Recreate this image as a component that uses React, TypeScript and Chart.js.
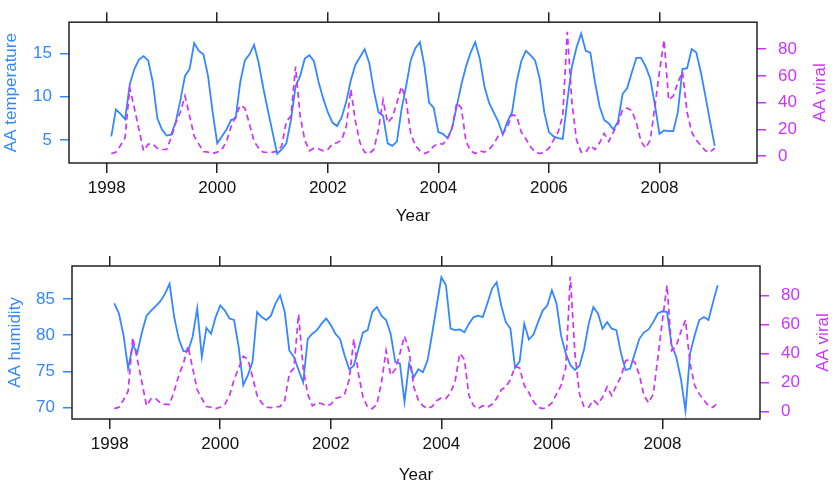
import React, { useEffect, useRef } from "react";
import { Chart, registerables } from "chart.js";

Chart.register(...registerables);

// ---------- data (monthly, Jan 1998 – Dec 2008) ----------
const startYear = 1998;

const temperature = [
  5.4, 8.5, 8.0, 7.4, 11.4, 13.2, 14.3, 14.7, 14.2, 11.7, 7.5, 6.2,
  5.5, 5.6, 7.1, 9.6, 12.4, 13.2, 16.2, 15.3, 14.9, 12.4, 8.2, 4.6,
  5.4, 6.2, 7.3, 7.5, 11.7, 14.2, 14.9, 16.0, 13.9, 11.0, 8.4, 5.9,
  3.4, 3.9, 4.6, 7.3, 11.2, 12.4, 14.4, 14.8, 14.1, 11.7, 9.8, 8.2,
  7.0, 6.6, 7.6, 9.4, 11.9, 13.7, 14.6, 15.5, 13.9, 10.7, 8.2, 7.8,
  4.6, 4.3, 4.8, 8.5, 11.2, 14.2, 15.6, 16.3, 13.5, 9.3, 8.7, 5.9,
  5.7, 5.2, 6.4, 8.9, 11.4, 13.5, 15.1, 16.3, 14.4, 11.2, 9.3, 8.2,
  7.1, 5.6, 7.1, 8.2, 11.7, 14.1, 15.3, 14.8, 14.2, 12.1, 8.2, 5.9,
  5.4, 5.2, 5.1, 9.5, 13.5, 15.7, 17.3, 15.3, 15.1, 11.7, 8.9, 7.3,
  6.9, 6.2, 7.1, 10.3, 11.0, 12.8, 14.5, 14.5, 13.5, 12.1, 9.1, 5.7,
  6.1, 6.0, 6.0, 8.2, 13.2, 13.3, 15.5, 15.1, 12.8, 10.0, 7.1, 4.3,
];

const humidity = [
  84.4, 83.0, 80.0, 75.4, 78.6, 77.6, 80.4, 82.7, 83.4, 84.0, 84.7, 85.7,
  87.1, 82.5, 79.5, 77.8, 77.8, 79.8, 83.7, 77.0, 81.0, 80.2, 82.5, 84.1,
  83.4, 82.3, 82.1, 78.4, 73.1, 74.5, 76.3, 83.2, 82.5, 82.1, 82.7, 84.4,
  85.5, 83.2, 77.9, 77.0, 75.2, 73.5, 79.5, 80.2, 80.7, 81.6, 82.3, 81.4,
  80.2, 79.5, 77.2, 75.3, 75.8, 78.1, 80.4, 80.7, 83.2, 83.9, 82.7, 82.1,
  80.2, 76.3, 76.1, 70.8, 76.1, 74.2, 75.3, 74.9, 76.5, 80.2, 84.1, 88.0,
  86.9, 80.9, 80.7, 80.8, 80.4, 81.6, 82.5, 82.7, 82.5, 84.4, 86.4, 87.3,
  84.1, 81.8, 80.9, 75.5, 76.4, 81.6, 79.4, 80.1, 81.8, 83.4, 84.1, 86.2,
  84.4, 79.9, 77.5, 75.9, 75.2, 75.8, 78.1, 81.6, 83.9, 83.0, 80.9, 81.8,
  80.9, 80.7, 77.5, 75.2, 75.4, 77.5, 79.5, 80.4, 80.8, 81.8, 83.0, 83.3,
  83.2, 78.6, 77.0, 74.0, 69.6, 77.5, 80.0, 82.1, 82.5, 82.1, 84.6, 86.9,
];

const viral = [
  2, 3, 8, 14, 51, 36, 20, 4, 9, 9, 6, 5,
  5, 14, 25, 33, 45, 30, 15, 9, 3.5, 3, 2, 3,
  5, 11, 22, 30, 38, 36, 24, 11, 6, 3, 2.7, 3,
  3.6, 7.7, 26, 30, 67, 30, 12, 4, 6, 5.5, 4, 5,
  9, 10, 12, 22, 50, 26, 10, 3, 2, 5, 20, 42,
  25, 29, 40, 52, 42, 17, 8, 4, 2, 3.5, 7.5, 9.5,
  9, 13, 21, 40, 36, 11, 4, 2, 4, 3, 5, 9,
  15, 17, 22, 31, 30, 18, 13, 7, 3, 2, 3, 6,
  12, 18, 30, 93, 40, 12, 3, 3, 8, 5, 10, 17,
  11, 18, 24, 35, 36, 34, 25, 11, 6, 12, 37, 63,
  87, 42, 45, 55, 63, 33, 18, 12, 8, 4, 3, 6,
];

const yearTicks = [1998, 2000, 2002, 2004, 2006, 2008];
const temperatureTicks = [5, 10, 15];
const humidityTicks = [70, 75, 80, 85];
const viralTicks = [0, 20, 40, 60, 80];

// ---------- styling ----------
const BLUE = "#3388ff";
const MAGENTA = "#cc33ff";
const INK = "#222222";
const FAMILY = "'Liberation Sans', Arial, Helvetica, sans-serif";
const FONT = { family: FAMILY, size: 17 };

const X_MIN = 1997.318;
const X_MAX = 2009.765;

const boxPlugin = {
  id: "panelBox",
  afterDatasetsDraw(chart: any) {
    const { ctx, chartArea: a } = chart;
    ctx.save();
    ctx.strokeStyle = INK;
    ctx.lineWidth = 1.5;
    ctx.strokeRect(a.left, a.top, a.right - a.left, a.bottom - a.top);
    ctx.restore();
  },
};

const rightTitlePlugin = {
  id: "rightTitle",
  afterDraw(chart: any, _args: any, opts: any) {
    const { ctx, chartArea: a } = chart;
    ctx.save();
    ctx.fillStyle = opts.color;
    ctx.font = `${FONT.size}px ${FAMILY}`;
    ctx.textAlign = "center";
    ctx.textBaseline = "middle";
    ctx.translate(a.right + opts.offset, (a.top + a.bottom) / 2);
    ctx.rotate(-Math.PI / 2);
    ctx.fillText(opts.text, 0, 0);
    ctx.restore();
  },
};

type PanelSpec = {
  leftLabel: string;
  leftValues: number[];
  leftTicks: number[];
  leftMin: number;
  leftMax: number;
  leftWidth: number;
  rightWidth: number;
  padTop: number;
  xAxisHeight: number;
  xTitlePad: number;
  leftTitlePad: number;
};

function makePanel(canvas: HTMLCanvasElement, spec: PanelSpec) {
  const months = spec.leftValues.map((_, i) => startYear + (i + 1) / 12);
  const toPoints = (vals: number[]) => vals.map((v, i) => ({ x: months[i], y: v }));
  const setYearTicks = (s: any) => {
    s.ticks = yearTicks.map((v) => ({ value: v }));
  };

  return new Chart(canvas, {
    type: "line",
    data: {
      datasets: [
        {
          label: "AA viral",
          data: toPoints(viral),
          xAxisID: "x",
          yAxisID: "y1",
          borderColor: MAGENTA,
          borderWidth: 1.7,
          borderDash: [6, 4],
          pointRadius: 0,
          tension: 0,
          fill: false,
        },
        {
          label: spec.leftLabel,
          data: toPoints(spec.leftValues),
          xAxisID: "x",
          yAxisID: "y",
          borderColor: BLUE,
          borderWidth: 1.8,
          pointRadius: 0,
          tension: 0,
          fill: false,
        },
      ],
    },
    options: {
      animation: false,
      responsive: false,
      maintainAspectRatio: false,
      devicePixelRatio: 1,
      layout: { padding: { top: spec.padTop, left: 0, right: 0, bottom: 0 } },
      plugins: {
        legend: { display: false },
        tooltip: { enabled: false },
        rightTitle: { text: "AA viral", color: MAGENTA, offset: 63.5 },
      } as any,
      scales: {
        x: {
          type: "linear",
          position: "bottom",
          min: X_MIN,
          max: X_MAX,
          afterBuildTicks: setYearTicks,
          afterFit: (s: any) => {
            s.height = spec.xAxisHeight;
          },
          grid: { drawOnChartArea: false, tickLength: 10, tickColor: INK, lineWidth: 1.5 },
          border: { display: false },
          ticks: {
            color: "#111",
            font: FONT,
            padding: 5,
            maxRotation: 0,
            autoSkip: false,
            callback: (v: any) => String(v),
          },
          title: {
            display: true,
            text: "Year",
            color: "#111",
            font: FONT,
            padding: { top: 0, bottom: spec.xTitlePad },
          },
        },
        x2: {
          type: "linear",
          position: "top",
          min: X_MIN,
          max: X_MAX,
          afterBuildTicks: setYearTicks,
          afterFit: (s: any) => {
            s.height = 10;
          },
          grid: { drawOnChartArea: false, tickLength: 10, tickColor: INK, lineWidth: 1.5 },
          border: { display: false },
          ticks: { display: false },
        },
        y: {
          type: "linear",
          position: "left",
          min: spec.leftMin,
          max: spec.leftMax,
          afterBuildTicks: (s: any) => {
            s.ticks = spec.leftTicks.map((v) => ({ value: v }));
          },
          afterFit: (s: any) => {
            s.width = spec.leftWidth;
          },
          grid: { drawOnChartArea: false, tickLength: 9, tickColor: BLUE, lineWidth: 1.5 },
          border: { display: false },
          ticks: { color: BLUE, font: FONT, padding: 8, callback: (v: any) => String(v) },
          title: {
            display: true,
            text: spec.leftLabel,
            color: BLUE,
            font: FONT,
            padding: { top: spec.leftTitlePad, bottom: 0 },
          },
        },
        y1: {
          type: "linear",
          position: "right",
          min: -5.1,
          max: 100.2,
          afterBuildTicks: (s: any) => {
            s.ticks = viralTicks.map((v) => ({ value: v }));
          },
          afterFit: (s: any) => {
            s.width = spec.rightWidth;
          },
          grid: { drawOnChartArea: false, tickLength: 9, tickColor: MAGENTA, lineWidth: 1.5 },
          border: { display: false },
          ticks: { color: MAGENTA, font: FONT, padding: 12, callback: (v: any) => String(v) },
        },
      },
    } as any,
    plugins: [boxPlugin, rightTitlePlugin],
  });
}

function Panel({ spec, top }: { spec: PanelSpec; top: number }) {
  const ref = useRef<HTMLCanvasElement | null>(null);
  useEffect(() => {
    if (!ref.current) return;
    const chart = makePanel(ref.current, spec);
    return () => chart.destroy();
  }, []);
  return (
    <canvas
      ref={ref}
      width={835}
      height={243}
      style={{ position: "absolute", left: 0, top, width: 835, height: 243 }}
    />
  );
}

const topSpec: PanelSpec = {
  leftLabel: "AA temperature",
  leftValues: temperature,
  leftTicks: temperatureTicks,
  leftMin: 2.32,
  leftMax: 18.62,
  leftWidth: 69,
  rightWidth: 78,
  padTop: 0,
  xAxisHeight: 80,
  xTitlePad: 16.3,
  leftTitlePad: 1.3,
};

const bottomSpec: PanelSpec = {
  leftLabel: "AA humidity",
  leftValues: humidity,
  leftTicks: humidityTicks,
  leftMin: 68.44,
  leftMax: 89.55,
  leftWidth: 72,
  rightWidth: 75,
  padTop: 13,
  xAxisHeight: 67,
  xTitlePad: 0.8,
  leftTitlePad: 4.8,
};

export default function App() {
  return (
    <div
      style={{
        position: "fixed",
        left: 0,
        top: 0,
        width: 835,
        height: 486,
        background: "#ffffff",
        overflow: "hidden",
      }}
    >
      <Panel spec={topSpec} top={0} />
      <Panel spec={bottomSpec} top={243} />
    </div>
  );
}
